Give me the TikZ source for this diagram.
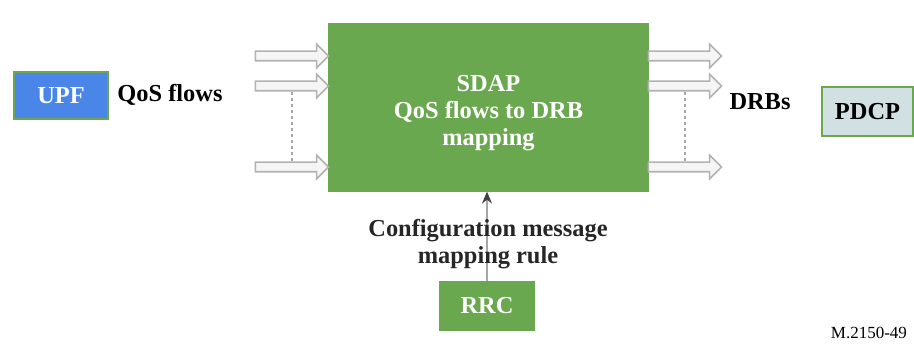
\documentclass[tikz,border=0pt]{standalone}
\usepackage{fontspec}
\setmainfont{Liberation Serif}
\usetikzlibrary{arrows.meta,positioning,calc,shapes.arrows}
\definecolor{sdapgreen}{HTML}{6AA84F}
\definecolor{upfblue}{HTML}{4A86E8}
\definecolor{pdcpfill}{HTML}{D0E0E3}
\tikzset{
  block/.style={draw=sdapgreen, line width=0.6pt, inner sep=0pt, align=center},
  flow/.style={single arrow, draw=gray!60, fill=gray!8, line width=0.8pt,
    minimum height=36.5pt, inner xsep=0pt, inner ysep=2pt, single arrow head extend=3.5pt},
  gap/.style={gray!70, line width=0.6pt, dash pattern=on 1.5pt off 1.5pt},
}

\begin{document}
\begin{tikzpicture}[x=0.5pt,y=-0.5pt, font=\fontsize{12.2}{13.5}\selectfont\bfseries]
  \useasboundingbox (0,0) rectangle (914,347);
  % blocks
  \node[block, fill=upfblue, text=white, minimum width=47pt, minimum height=23.5pt] (upf) at (61,95.5) {UPF};
  \node[block, fill=sdapgreen, text=white, minimum width=159.5pt, minimum height=83.5pt] (sdap) at (488.5,107.5)
    {\parbox{150pt}{\centering\vspace*{6pt}SDAP\\QoS flows to DRB\\mapping}};
  \node[block, fill=pdcpfill, minimum width=45.5pt, minimum height=24.5pt] (pdcp) at (867.5,111.5) {PDCP};
  \node[block, fill=sdapgreen, text=white, minimum width=47pt, minimum height=24pt] (rrc) at (487,306) {RRC};
  % flows in and out
  \node[flow] (qin1) at (289.5,56) {};
  \node[flow] (qin2) at (289.5,86) {};
  \node[flow] (qin3) at (289.5,167) {};
  \node[flow] (drb1) at (682.5,56) {};
  \node[flow] (drb2) at (682.5,86) {};
  \node[flow] (drb3) at (682.5,167) {};
  \draw[gap] ($(qin2.tail)!0.5!(qin2.tip)+(0,6)$) -- ($(qin3.tail)!0.5!(qin3.tip)+(0,-6)$);
  \draw[gap] ($(drb2.tail)!0.5!(drb2.tip)+(0,6)$) -- ($(drb3.tail)!0.5!(drb3.tip)+(0,-6)$);
  % labels
  \node (qos) at (170,95) {QoS flows};
  \node (drbs) at (760,102) {DRBs};
  % configuration
  \draw[gray!70, line width=0.8pt, -{Stealth[length=6pt,width=5pt,color=gray!150]}] (rrc.north) -- (rrc.north |- sdap.south);
  \node[align=center, text=black!85] (cfg) at (488,244) {Configuration message\\mapping rule};
  \node[anchor=east, font=\fontsize{8.5}{10}\selectfont] (fig) at (914,333) {M.2150-49};
\end{tikzpicture}
\end{document}
